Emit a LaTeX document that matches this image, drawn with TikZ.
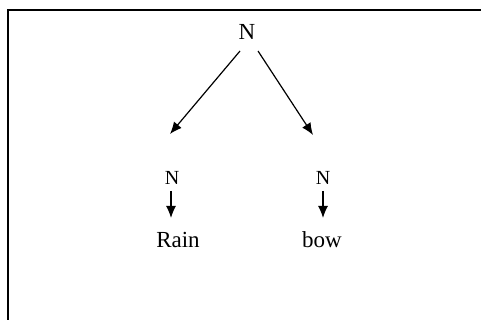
\documentclass[tikz,border=0pt]{standalone}
\usepackage{fontspec}
\setmainfont{Liberation Serif}
\usetikzlibrary{arrows.meta}
\begin{document}
\begin{tikzpicture}[x=1pt,y=-1pt,
  big/.style={inner sep=0pt,font=\fontsize{23}{26}\selectfont},
  small/.style={inner sep=0pt,font=\fontsize{20}{23}\selectfont},
  arr/.style={-{Latex[length=12pt,width=10pt]},line width=1.2pt},
  frameline/.style={line width=1.3pt}]
\useasboundingbox (0,0) rectangle (481,320);
\coordinate (fc) at (8,10);
\coordinate (fr) at (481,10);
\coordinate (fb) at (8,320);
\draw[frameline] (fr) -- (fc) -- (fb);
\node[big] (top) at (247,32) {N};
\node[small] (nl) at (172,178) {N};
\node[small] (nr) at (323,178) {N};
\node[big] (rain) at (178,240) {Rain};
\node[big] (bow) at (322,240) {bow};
\coordinate (tl) at (240,51);
\coordinate (tr) at (258,51);
\coordinate (el) at (170,134);
\coordinate (er) at (313,135);
\draw[arr] (tl) -- (el);
\draw[arr] (tr) -- (er);
\coordinate (al) at (171,191);
\coordinate (bl) at (171,218);
\coordinate (ar) at (323,191);
\coordinate (br) at (323,218);
\draw[arr] (al) -- (bl);
\draw[arr] (ar) -- (br);
\end{tikzpicture}
\end{document}
